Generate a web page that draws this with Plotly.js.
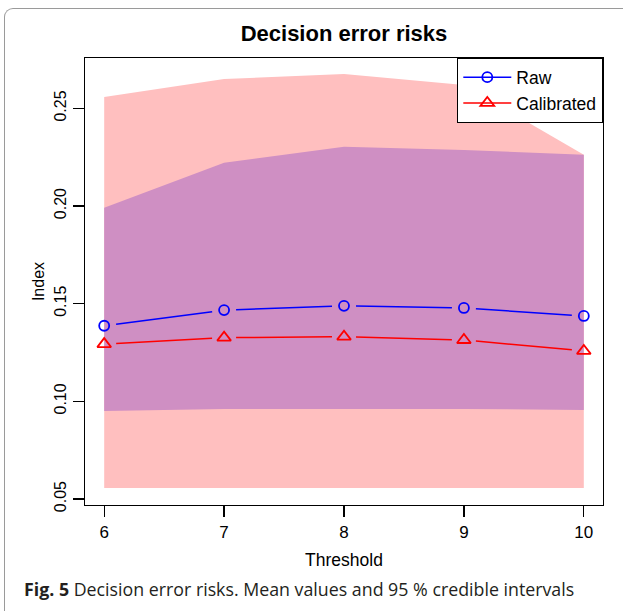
<!DOCTYPE html>
<html>
<head>
<meta charset="utf-8">
<script src="https://cdn.plot.ly/plotly-3.0.1.min.js"></script>
<style>
  html, body { margin: 0; padding: 0; background: #fff; }
  #wrap { position: relative; width: 623px; height: 611px; overflow: hidden; }
  #frame { position: absolute; left: 4px; top: 8px; width: 640px; height: 640px;
           border-left: 1.5px solid #9a9a9a; border-top: 1.5px solid #9a9a9a;
           border-top-left-radius: 9px; box-sizing: border-box; }
  #chart { position: absolute; left: 0; top: 0; width: 623px; height: 611px; }
</style>
</head>
<body>
<div id="wrap">
  <div id="frame"></div>
  <div id="chart"></div>
</div>
<script>
// ---- data ----
const thresholds = [6, 7, 8, 9, 10];
const rawMean = [0.1387, 0.1467, 0.1489, 0.1478, 0.1437];
const calMean = [0.1293, 0.1326, 0.1331, 0.1314, 0.1258];
// 95% credible intervals
const calLower = [0.0556, 0.0556, 0.0556, 0.0556, 0.0556];
const calUpper = [0.2558, 0.2650, 0.2676, 0.2620, 0.2262];
const rawLower = [0.0950, 0.0961, 0.0961, 0.0961, 0.0956];
const rawUpper = [0.1991, 0.2222, 0.2303, 0.2287, 0.2262];
const yTicks = [0.05, 0.10, 0.15, 0.20, 0.25];
const yTickText = ["0.05", "0.10", "0.15", "0.20", "0.25"];
const xTicks = [6, 7, 8, 9, 10];

const PINK = "#FFBFBF";
const PURPLE = "#CF8FC3";
const FONT = "Liberation Sans, Arial, Helvetica, sans-serif";

const W = 623, H = 611;
const M = { l: 85, r: 20, t: 58, b: 106 };
const XR = [5.84, 10.16], YR = [0.0469, 0.2758];
const SX = (W - M.l - M.r) / (XR[1] - XR[0]);
const SY = (H - M.t - M.b) / (YR[1] - YR[0]);
const GAP = 12; // px gap around points, like R type = "b"

function band(lower, upper, color) {
  const xs = thresholds.concat(thresholds.slice().reverse());
  const ys = upper.concat(lower.slice().reverse());
  return { x: xs, y: ys, type: "scatter", mode: "lines", fill: "toself",
           fillcolor: color, line: { width: 0, color: color },
           showlegend: false, hoverinfo: "skip" };
}

// line segments between points, shortened at both ends (R "type = b")
function gappedSegments(xs, ys) {
  const gx = [], gy = [];
  for (let i = 0; i < xs.length - 1; i++) {
    const dx = (xs[i + 1] - xs[i]) * SX, dy = (ys[i + 1] - ys[i]) * SY;
    const f = GAP / Math.hypot(dx, dy);
    gx.push(xs[i] + (xs[i + 1] - xs[i]) * f, xs[i + 1] - (xs[i + 1] - xs[i]) * f, null);
    gy.push(ys[i] + (ys[i + 1] - ys[i]) * f, ys[i + 1] - (ys[i + 1] - ys[i]) * f, null);
  }
  return { x: gx, y: gy };
}

function seriesTraces(name, ys, color, symbol, size) {
  const seg = gappedSegments(thresholds, ys);
  return [
    { x: seg.x, y: seg.y, type: "scatter", mode: "lines", connectgaps: false,
      line: { color: color, width: 1.5 }, showlegend: false, hoverinfo: "skip" },
    { x: thresholds, y: ys, type: "scatter", mode: "markers", name: name,
      marker: { symbol: symbol, size: size, color: color, line: { color: color, width: 1.8 } },
      showlegend: false },
    { x: [null], y: [null], type: "scatter", mode: "lines+markers", name: name,
      line: { color: color, width: 1.5 },
      marker: { symbol: symbol, size: size, color: color, line: { color: color, width: 1.8 } } }
  ];
}

const data = [
  band(calLower, calUpper, PINK),
  band(rawLower, rawUpper, PURPLE),
  ...seriesTraces("Calibrated", calMean, "#FF0000", "triangle-up-open", 12),
  ...seriesTraces("Raw", rawMean, "#0000FF", "circle-open", 10)
];

const layout = {
  width: W, height: H,
  margin: { l: M.l, r: M.r, t: M.t, b: M.b, pad: 0 },
  paper_bgcolor: "rgba(0,0,0,0)",
  plot_bgcolor: "#ffffff",
  font: { family: FONT, size: 16, color: "#000" },
  title: { text: "<b>Decision error risks</b>", x: 0.5, xref: "paper", xanchor: "center",
           y: 1 - 33 / H, yref: "container", yanchor: "middle",
           font: { family: FONT, size: 22, color: "#000" } },
  xaxis: {
    range: XR, tickvals: xTicks, ticktext: xTicks.map(String),
    ticks: "outside", ticklen: 11, tickwidth: 1.2, tickcolor: "#000",
    showline: true, mirror: true, linecolor: "#000", linewidth: 1.3,
    showgrid: false, zeroline: false,
    tickfont: { family: FONT, size: 17 },
    title: { text: "Threshold", font: { family: FONT, size: 17.5 }, standoff: 13 }
  },
  yaxis: {
    range: YR, tickvals: yTicks, ticktext: yTickText,
    ticks: "outside", ticklen: 11, tickwidth: 1.2, tickcolor: "#000",
    showline: true, mirror: true, linecolor: "#000", linewidth: 1.3,
    showgrid: false, zeroline: false, tickangle: -90,
    tickfont: { family: FONT, size: 16 },
    title: { text: "Index", font: { family: FONT, size: 16 }, standoff: 3 }
  },
  legend: {
    x: 1, xanchor: "right", y: 1, yanchor: "top",
    bgcolor: "#ffffff", bordercolor: "#000", borderwidth: 1.3,
    font: { family: FONT, size: 17.5 }, traceorder: "reversed",
    itemwidth: 48
  },
  annotations: [{
    text: "<b>Fig. 5</b> Decision error risks. Mean values and 95 % credible intervals",
    xref: "paper", yref: "paper", x: (22 - M.l) / (W - M.l - M.r), y: -(589 - (H - M.b)) / (H - M.t - M.b),
    xanchor: "left", yanchor: "middle", showarrow: false,
    font: { family: "Open Sans, sans-serif", size: 17.8, color: "#231f20" }
  }],
  showlegend: true
};

Plotly.newPlot("chart", data, layout, { displayModeBar: false, staticPlot: true });
</script>
</body>
</html>
